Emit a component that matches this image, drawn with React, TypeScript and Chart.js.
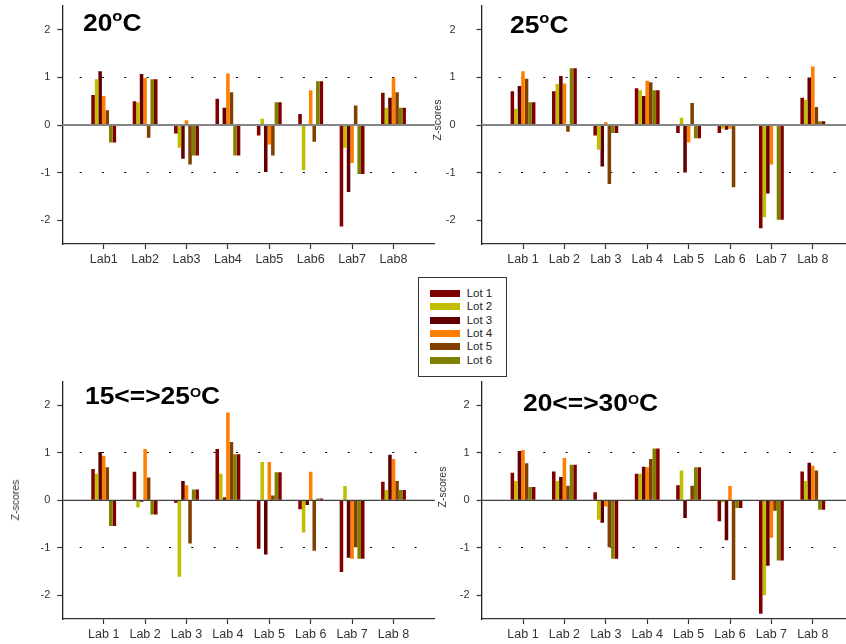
import React, { useEffect, useRef } from 'react';
import { Chart, registerables } from 'chart.js';

Chart.register(...registerables);
Chart.defaults.font.family = "'Liberation Sans', Arial, Helvetica, sans-serif";

// ---- categories and ticks ----
const labsCompact = ['Lab1', 'Lab2', 'Lab3', 'Lab4', 'Lab5', 'Lab6', 'Lab7', 'Lab8'];
const labsSpaced = ['Lab 1', 'Lab 2', 'Lab 3', 'Lab 4', 'Lab 5', 'Lab 6', 'Lab 7', 'Lab 8'];
const yTicks = [-2, -1, 0, 1, 2];

const lotNames = ['Lot 1', 'Lot 2', 'Lot 3', 'Lot 4', 'Lot 5', 'Lot 6'];
const lotColors = ['#800000', '#bfbf00', '#600000', '#ff8000', '#804000', '#808000'];
// the seventh bar of each group repeats Lot 6 in Lot 1's colour
const repeatColor = '#800000';

// ---- Z-scores, 20 °C ----
const t20Lot1 = [0.63, 0.5, -0.18, 0.55, -0.22, 0.23, -2.13, 0.68];
const t20Lot2 = [0.96, 0.48, -0.48, 0.0, 0.13, -0.95, -0.48, 0.36];
const t20Lot3 = [1.13, 1.07, -0.71, 0.36, -0.99, 0.0, -1.41, 0.57];
const t20Lot4 = [0.61, 0.99, 0.1, 1.08, -0.41, 0.73, -0.8, 0.99];
const t20Lot5 = [0.31, -0.27, -0.83, 0.69, -0.64, -0.35, 0.41, 0.69];
const t20Lot6 = [-0.37, 0.96, -0.64, -0.64, 0.48, 0.92, -1.03, 0.36];

// ---- Z-scores, 25 °C ----
const t25Lot1 = [0.71, 0.71, -0.22, 0.77, -0.17, -0.17, -2.17, 0.57];
const t25Lot2 = [0.34, 0.86, -0.52, 0.73, 0.15, -0.08, -1.94, 0.53];
const t25Lot3 = [0.82, 1.03, -0.87, 0.61, -1.0, -0.1, -1.44, 1.0];
const t25Lot4 = [1.13, 0.87, 0.06, 0.93, -0.37, -0.08, -0.83, 1.23];
const t25Lot5 = [0.97, -0.14, -1.24, 0.9, 0.46, -1.31, 0.02, 0.38];
const t25Lot6 = [0.48, 1.19, -0.17, 0.73, -0.28, -0.02, -1.99, 0.08];

// ---- Z-scores, cycling 15 <=> 25 °C ----
const c1525Lot1 = [0.66, 0.6, -0.05, 1.08, -1.02, -0.19, -1.51, 0.39];
const c1525Lot2 = [0.56, -0.15, -1.61, 0.56, 0.81, -0.68, 0.3, 0.22];
const c1525Lot3 = [1.02, -0.03, 0.41, 0.06, -1.14, -0.1, -1.21, 0.96];
const c1525Lot4 = [0.94, 1.08, 0.32, 1.85, 0.81, 0.6, -1.23, 0.87];
const c1525Lot5 = [0.7, 0.48, -0.91, 1.23, 0.1, -1.06, -0.99, 0.41];
const c1525Lot6 = [-0.54, -0.3, 0.23, 0.97, 0.59, 0.04, -1.23, 0.22];

// ---- Z-scores, cycling 20 <=> 30 °C ----
const c2030Lot1 = [0.58, 0.61, 0.17, 0.56, 0.32, -0.44, -2.39, 0.61];
const c2030Lot2 = [0.41, 0.41, -0.41, 0.56, 0.63, -0.04, -2.0, 0.41];
const c2030Lot3 = [1.04, 0.49, -0.47, 0.71, -0.37, -0.84, -1.38, 0.79];
const c2030Lot4 = [1.06, 0.89, -0.13, 0.7, 0.03, 0.3, -0.79, 0.73];
const c2030Lot5 = [0.78, 0.31, -0.99, 0.87, 0.31, -1.68, -0.22, 0.63];
const c2030Lot6 = [0.28, 0.75, -1.23, 1.09, 0.7, -0.16, -1.27, -0.2];

// ---- canvas / layout ----
const CW = 860;
const CH = 644;
const FONT = "'Liberation Sans', Arial, Helvetica, sans-serif";

type Frame = { left: number; right: number; top: number; bottom: number };

type PanelSpec = {
  id: string;
  labels: string[];
  series: number[][];
  frame: Frame;
  scaleLeft: number;
  tickPad: number;
  zeroColor: string;
  zeroWidth: number;
};

const panels: PanelSpec[] = [
  {
    id: 'p20',
    labels: labsCompact,
    series: [t20Lot1, t20Lot2, t20Lot3, t20Lot4, t20Lot5, t20Lot6],
    frame: { left: 62.3, right: 434.9, top: 6, bottom: 244 },
    scaleLeft: 0,
    tickPad: 7,
    zeroColor: '#858585',
    zeroWidth: 2,
  },
  {
    id: 'p25',
    labels: labsSpaced,
    series: [t25Lot1, t25Lot2, t25Lot3, t25Lot4, t25Lot5, t25Lot6],
    frame: { left: 481.6, right: 854.2, top: 6, bottom: 244 },
    scaleLeft: 440,
    tickPad: 21,
    zeroColor: '#858585',
    zeroWidth: 2,
  },
  {
    id: 'p1525',
    labels: labsSpaced,
    series: [c1525Lot1, c1525Lot2, c1525Lot3, c1525Lot4, c1525Lot5, c1525Lot6],
    frame: { left: 62.3, right: 434.9, top: 381.7, bottom: 619 },
    scaleLeft: 0,
    tickPad: 7,
    zeroColor: '#404040',
    zeroWidth: 1.3,
  },
  {
    id: 'p2030',
    labels: labsSpaced,
    series: [c2030Lot1, c2030Lot2, c2030Lot3, c2030Lot4, c2030Lot5, c2030Lot6],
    frame: { left: 481.6, right: 854.2, top: 381.7, bottom: 619 },
    scaleLeft: 440,
    tickPad: 7,
    zeroColor: '#404040',
    zeroWidth: 1.3,
  },
];

// horizontal line through zero, drawn over the bars
const zeroLinePlugin = {
  id: 'zeroLine',
  afterDatasetsDraw(chart: any, _args: any, opts: any) {
    const { ctx, chartArea, scales } = chart;
    const y = scales.y.getPixelForValue(0);
    ctx.save();
    ctx.strokeStyle = opts.color;
    ctx.lineWidth = opts.width;
    ctx.beginPath();
    ctx.moveTo(chartArea.left, y);
    ctx.lineTo(chartArea.right, y);
    ctx.stroke();
    ctx.restore();
  },
};

function Panel({ spec }: { spec: PanelSpec }) {
  const ref = useRef<HTMLCanvasElement>(null);

  useEffect(() => {
    const canvas = ref.current;
    if (!canvas) return;
    const { frame } = spec;
    const catLabels = ['', ...spec.labels, ''];
    const lastIndex = catLabels.length - 1;
    const pad = (vals: number[]) => [null, ...vals, null];
    const yWidth = frame.left - spec.scaleLeft;
    const xHeight = Math.min(26, CH - frame.bottom);

    const datasets = [
      ...spec.series.map((vals, i) => ({
        label: lotNames[i],
        data: pad(vals),
        backgroundColor: lotColors[i],
        borderWidth: 0,
      })),
      {
        label: 'Lot 6 repeat',
        data: pad(spec.series[5]),
        backgroundColor: repeatColor,
        borderWidth: 0,
      },
    ];

    const chart = new Chart(canvas, {
      type: 'bar',
      data: { labels: catLabels, datasets },
      options: {
        responsive: false,
        animation: false,
        events: [],
        layout: {
          padding: {
            left: spec.scaleLeft,
            right: CW - frame.right,
            top: frame.top,
            bottom: CH - frame.bottom - xHeight,
          },
        },
        datasets: {
          bar: { categoryPercentage: 0.6, barPercentage: 1 },
        },
        plugins: {
          legend: { display: false },
          tooltip: { enabled: false },
          zeroLine: { color: spec.zeroColor, width: spec.zeroWidth },
        } as any,
        scales: {
          x: {
            type: 'category',
            offset: false,
            grid: {
              offset: false,
              drawOnChartArea: false,
              tickLength: 5,
              tickWidth: 1.2,
              tickColor: (c: any) =>
                c.index === 0 || c.index === lastIndex ? 'rgba(0,0,0,0)' : '#333333',
            },
            border: { color: '#333333', width: 1.3 },
            ticks: {
              autoSkip: false,
              maxRotation: 0,
              padding: 3,
              color: '#333333',
              font: { size: 12.5 },
            },
            afterFit: (s: any) => {
              s.height = xHeight;
              s.paddingLeft = 0;
              s.paddingRight = 0;
            },
          },
          y: {
            min: -2.5,
            max: 2.5,
            afterBuildTicks: (s: any) => {
              s.ticks = yTicks.map((v) => ({ value: v }));
            },
            grid: {
              lineWidth: 1,
              color: (c: any) =>
                c.tick && Math.abs(c.tick.value) === 1 ? '#000000' : 'rgba(0,0,0,0)',
              tickLength: 5,
              tickWidth: 1.2,
              tickColor: '#333333',
            },
            border: { color: '#222222', width: 1.3, dash: [2, 20.33], dashOffset: 6 },
            ticks: {
              padding: spec.tickPad,
              color: '#333333',
              font: { size: 11 },
              callback: (v: any) => String(v),
            },
            afterFit: (s: any) => {
              s.width = yWidth;
              s.paddingTop = 0;
              s.paddingBottom = 0;
            },
          },
        },
      } as any,
      plugins: [zeroLinePlugin as any],
    });

    return () => chart.destroy();
  }, [spec]);

  return (
    <canvas
      ref={ref}
      width={CW}
      height={CH}
      style={{ position: 'absolute', left: 0, top: 0, width: CW, height: CH }}
    />
  );
}

type TitleSpec = { main: string; sup: string; left: number; baseline: number; supSize: number; raise: number };

const titleSpecs: TitleSpec[] = [
  { main: '20', sup: 'o', left: 82.7, baseline: 31.7, supSize: 15, raise: 10 },
  { main: '25', sup: 'o', left: 510, baseline: 33.3, supSize: 15, raise: 10 },
  { main: '15<=>25', sup: 'O', left: 85, baseline: 404, supSize: 13, raise: 7 },
  { main: '20<=>30', sup: 'O', left: 522.7, baseline: 411.7, supSize: 13, raise: 7 },
];

// vertical axis captions, centre points
const axisCaptions = [
  { x: 437, y: 120 },
  { x: 14.5, y: 500 },
  { x: 441.5, y: 487 },
];

function PanelTitle({ t }: { t: TitleSpec }) {
  return (
    <div
      style={{
        position: 'absolute',
        left: t.left,
        top: t.baseline - 20.3,
        font: `bold 24px ${FONT}`,
        lineHeight: '24px',
        color: '#000',
        whiteSpace: 'nowrap',
        transform: 'scaleX(1.1)',
        transformOrigin: 'left top',
      }}
    >
      {t.main}
      <span
        style={{
          fontSize: t.supSize,
          lineHeight: 0,
          position: 'relative',
          top: -t.raise,
        }}
      >
        {t.sup}
      </span>
      C
    </div>
  );
}

function Legend() {
  return (
    <div
      style={{
        position: 'absolute',
        left: 418,
        top: 277,
        width: 89,
        height: 100,
        boxSizing: 'border-box',
        border: '1px solid #333',
        background: '#fff',
      }}
    >
      {lotNames.map((name, i) => {
        const cy = 15.3 + 13.35 * i;
        return (
          <React.Fragment key={name}>
            <div
              style={{
                position: 'absolute',
                left: 11,
                top: cy - 3.5,
                width: 30,
                height: 7,
                background: lotColors[i],
              }}
            />
            <div
              style={{
                position: 'absolute',
                left: 47.7,
                top: cy - 6.5,
                font: `11.5px ${FONT}`,
                lineHeight: '13px',
                color: '#222',
                whiteSpace: 'nowrap',
              }}
            >
              {name}
            </div>
          </React.Fragment>
        );
      })}
    </div>
  );
}

export default function App() {
  return (
    <div
      style={{
        position: 'fixed',
        left: 0,
        top: 0,
        width: 846,
        height: 644,
        overflow: 'hidden',
        background: '#fff',
      }}
    >
      {panels.map((p) => (
        <Panel key={p.id} spec={p} />
      ))}
      {titleSpecs.map((t) => (
        <PanelTitle key={t.main} t={t} />
      ))}
      {axisCaptions.map((c, i) => (
        <div
          key={i}
          style={{
            position: 'absolute',
            left: c.x,
            top: c.y,
            transform: 'translate(-50%, -50%) rotate(-90deg)',
            font: `10.5px ${FONT}`,
            color: '#333',
            whiteSpace: 'nowrap',
          }}
        >
          Z-scores
        </div>
      ))}
      <Legend />
    </div>
  );
}
